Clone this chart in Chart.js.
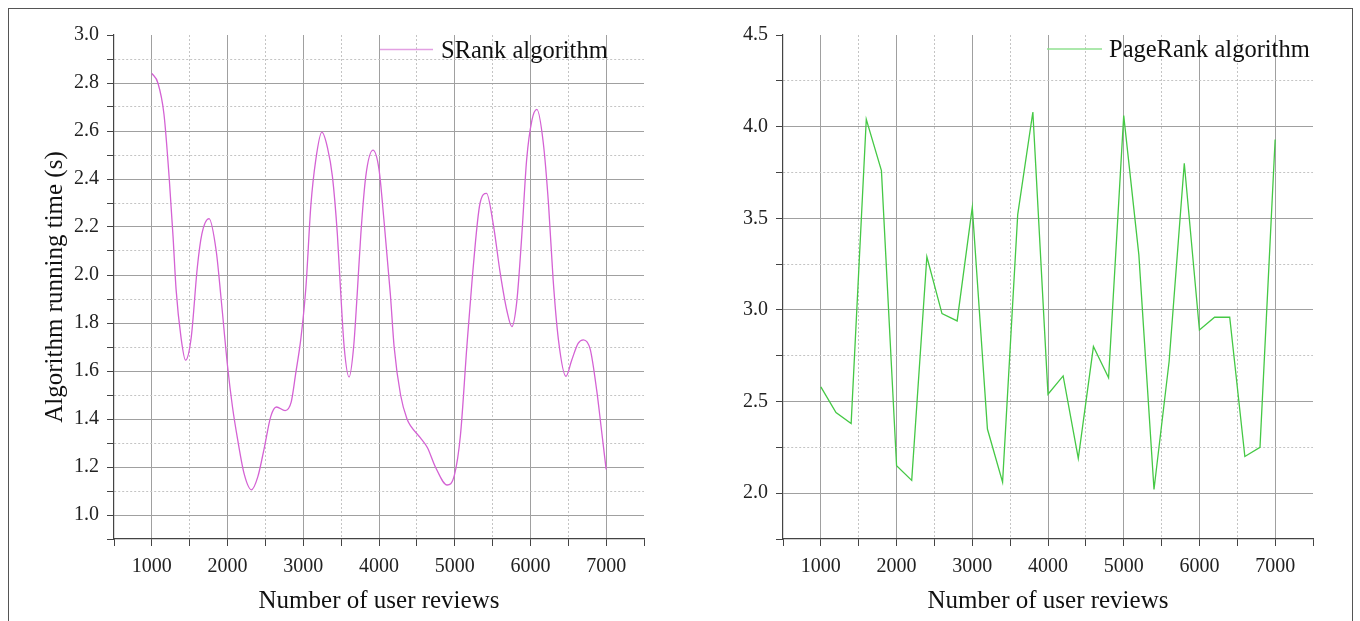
<!DOCTYPE html>
<html><head><meta charset="utf-8">
<script src="https://cdn.jsdelivr.net/npm/chart.js@4/dist/chart.umd.min.js"></script>
<style>
html,body{margin:0;padding:0;background:#fff;width:1360px;height:621px;overflow:hidden;}
#frame{position:absolute;left:8px;top:8px;width:1345px;height:640px;border:1px solid #555;box-sizing:border-box;}
#c1{position:absolute;left:0;top:0;}
#c2{position:absolute;left:680px;top:0;}
</style></head><body>
<div id="frame"></div>
<canvas id="c1" width="680" height="621"></canvas>
<canvas id="c2" width="680" height="621"></canvas>
<script>
// ---- data ----
const srankReviews = [1000,1080,1160,1230,1280,1320,1385,1445,1520,1600,1660,1755,1850,1915,2000,2065,2130,2220,2315,2400,2485,2570,2645,2760,2840,2900,2970,3035,3100,3165,3245,3320,3385,3450,3490,3540,3605,3665,3710,3760,3825,3920,4000,4065,4150,4200,4285,4370,4420,4550,4640,4745,4900,4995,5075,5160,5230,5335,5420,5510,5600,5690,5755,5820,5885,5950,6020,6085,6170,6240,6300,6370,6470,6545,6630,6700,6790,6875,6940,7000];
const srankTime = [2.84,2.80,2.67,2.40,2.16,1.94,1.74,1.645,1.74,2.03,2.17,2.235,2.10,1.90,1.62,1.45,1.32,1.17,1.105,1.16,1.28,1.41,1.45,1.435,1.47,1.59,1.74,1.95,2.29,2.48,2.595,2.53,2.41,2.17,1.95,1.70,1.575,1.70,1.91,2.17,2.41,2.52,2.44,2.23,1.92,1.70,1.50,1.40,1.37,1.32,1.28,1.20,1.125,1.165,1.33,1.70,1.98,2.30,2.34,2.21,2.01,1.85,1.785,1.89,2.16,2.48,2.645,2.69,2.55,2.29,1.98,1.73,1.578,1.645,1.715,1.73,1.69,1.52,1.35,1.19];
const pagerankReviews = [1000,1200,1400,1600,1800,2000,2200,2400,2600,2800,3000,3200,3400,3600,3800,4000,4200,4400,4600,4800,5000,5200,5400,5600,5800,6000,6200,6400,6600,6800,7000];
const pagerankTime = [2.58,2.44,2.38,4.04,3.76,2.15,2.07,3.29,2.98,2.94,3.56,2.35,2.06,3.52,4.08,2.54,2.64,2.19,2.80,2.63,4.06,3.30,2.02,2.72,3.80,2.89,2.96,2.96,2.20,2.25,3.93];
const xTickLabels = ['1000','2000','3000','4000','5000','6000','7000'];
const srankYLabels = ['1.0','1.2','1.4','1.6','1.8','2.0','2.2','2.4','2.6','2.8','3.0'];
const pagerankYLabels = ['2.0','2.5','3.0','3.5','4.0','4.5'];
const seriesNames = ['SRank algorithm','PageRank algorithm'];
const xTitle = 'Number of user reviews';
const yTitle = 'Algorithm running time (s)';

// ---- styling ----
const SERIF = '"Liberation Serif","Times New Roman",serif';
const near = (a,b) => Math.abs(a-b) < 1e-6;
const fmt1 = v => (Math.round(v*10)/10).toFixed(1);

const insideLegend = {
  id: 'insideLegend',
  afterDatasetsDraw(chart, args, o) {
    const ctx = chart.ctx;
    const ds = chart.data.datasets[0];
    ctx.save();
    ctx.strokeStyle = o.lineColor; ctx.lineWidth = 1.3;
    ctx.beginPath(); ctx.moveTo(o.x0, o.y); ctx.lineTo(o.x1, o.y); ctx.stroke();
    ctx.font = '24.5px ' + SERIF; ctx.fillStyle = '#111'; ctx.textBaseline = 'alphabetic'; ctx.textAlign = 'left';
    ctx.fillText(ds.label, o.textX, o.baseline);
    ctx.restore();
  }
};

function axisX(min, max) {
  const isMajor = v => near(v % 1000, 0);
  return {
    type: 'linear', min, max,
    afterFit: s => { s.height = 82; },
    ticks: { stepSize: 500, autoSkip: false, maxRotation: 0, minRotation: 0, padding: 9,
      font: { family: SERIF, size: 20 }, color: '#222',
      callback: v => xTickLabels.includes(String(v)) ? String(v) : '' },
    grid: {
      color: c => (!c.tick || near(c.tick.value,min) || near(c.tick.value,max)) ? 'rgba(0,0,0,0)' : (isMajor(c.tick.value) ? '#a0a0a0' : '#c4c4c4'),
      lineWidth: 1, tickLength: 7, tickColor: '#444', tickWidth: 1
    },
    border: { color: '#444', width: 1.2, dash: c => (c.tick && !isMajor(c.tick.value)) ? [2,2] : [] },
    title: { display: true, text: xTitle, font: { family: SERIF, size: 25 }, color: '#111', padding: { top: 4, bottom: 5 } }
  };
}

function axisY(min, max, step, majorStep, labels, width, withTitle) {
  const isMajor = v => near(Math.round(v/majorStep)*majorStep, v);
  return {
    type: 'linear', min, max,
    afterFit: s => { s.width = width; },
    ticks: { stepSize: step, autoSkip: false, padding: 8,
      font: { family: SERIF, size: 20 }, color: '#222',
      callback: v => labels.includes(fmt1(v)) && isMajor(v) ? fmt1(v) : '' },
    grid: {
      color: c => (!c.tick || near(c.tick.value,min) || near(c.tick.value,max)) ? 'rgba(0,0,0,0)' : (isMajor(c.tick.value) ? '#a0a0a0' : '#c4c4c4'),
      lineWidth: 1, tickLength: 7, tickColor: '#444', tickWidth: 1
    },
    border: { color: '#444', width: 1.2, dash: c => (c.tick && !isMajor(c.tick.value)) ? [2,2] : [] },
    title: { display: withTitle, text: yTitle, font: { family: SERIF, size: 25 }, color: '#111', padding: { top: 40, bottom: 0 } }
  };
}

Chart.defaults.font.family = SERIF;

new Chart(document.getElementById('c1'), {
  type: 'line',
  data: { datasets: [{
    label: seriesNames[0],
    data: srankReviews.map((x,i) => ({ x, y: srankTime[i] })),
    borderColor: '#d462d4', borderWidth: 1.3, pointRadius: 0,
    cubicInterpolationMode: 'monotone', fill: false
  }]},
  options: {
    responsive: false, animation: false, devicePixelRatio: 1,
    layout: { padding: { left: 0, top: 35, right: 36, bottom: 0 } },
    plugins: { legend: { display: false }, tooltip: { enabled: false },
      insideLegend: { x0: 380, x1: 433, y: 49.5, textX: 441, baseline: 57.5, lineColor: '#e2a0e2' } },
    scales: { x: axisX(500, 7500), y: axisY(0.9, 3.0, 0.1, 0.2, srankYLabels, 114, true) }
  },
  plugins: [insideLegend]
});

new Chart(document.getElementById('c2'), {
  type: 'line',
  data: { datasets: [{
    label: seriesNames[1],
    data: pagerankReviews.map((x,i) => ({ x, y: pagerankTime[i] })),
    borderColor: '#45c845', borderWidth: 1.3, pointRadius: 0, tension: 0, fill: false
  }]},
  options: {
    responsive: false, animation: false, devicePixelRatio: 1,
    layout: { padding: { left: 0, top: 35, right: 47, bottom: 0 } },
    plugins: { legend: { display: false }, tooltip: { enabled: false },
      insideLegend: { x0: 367, x1: 422, y: 49, textX: 429, baseline: 57, lineColor: '#90e090' } },
    scales: { x: axisX(500, 7500), y: axisY(1.75, 4.5, 0.25, 0.5, pagerankYLabels, 103, false) }
  },
  plugins: [insideLegend]
});
</script>
</body></html>
